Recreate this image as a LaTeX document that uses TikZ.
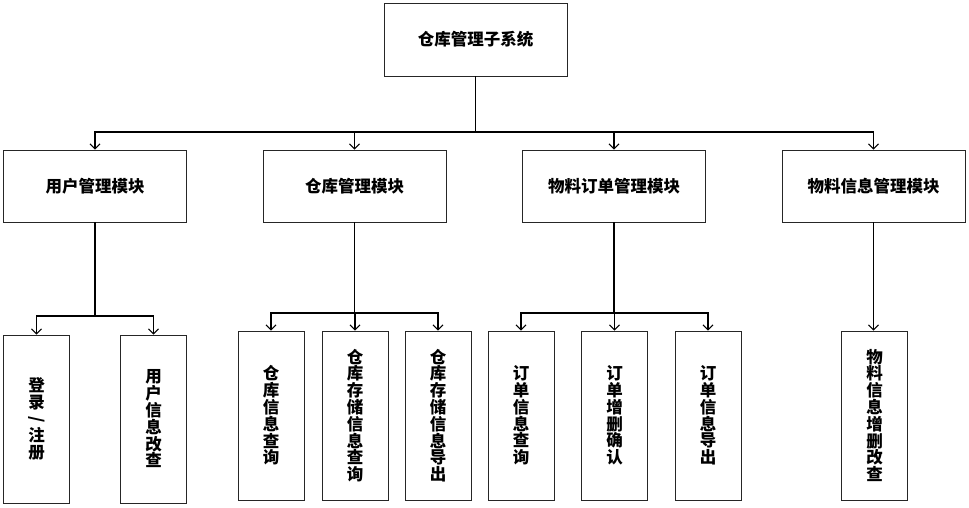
\documentclass[tikz,border=0pt]{standalone}
\usepackage{fontspec}
\newfontfamily\cjk{Noto Sans CJK SC}[BoldFont={Noto Sans CJK SC Black}]
\usetikzlibrary{arrows.meta}
\tikzset{
  x=1pt, y=-1pt,
  box/.style={draw=black!85, line width=0.9pt, fill=white, inner sep=0pt, font=\cjk\bfseries\fontsize{16.5}{16.8}\selectfont, align=center},
  wbox/.style={box, minimum width=183pt, minimum height=73pt},
  vbox/.style={box, minimum width=66pt, minimum height=169pt},
  conn/.style={line width=1.5pt, black},
  arr/.style={conn, -{Straight Barb[length=5pt,width=10pt,line width=1pt]}}
}
\begin{document}
\begin{tikzpicture}
\useasboundingbox (0,0) rectangle (969,507);
% top
\node[wbox] (top) at (475.5,39.5) {仓库管理子系统};
% level 2
\node[wbox, minimum height=72pt] (m1) at (95,186) {用户管理模块};
\node[wbox, minimum height=72pt] (m2) at (354.5,186) {仓库管理模块};
\node[wbox, minimum height=72pt] (m3) at (614,186) {物料订单管理模块};
\node[wbox, minimum height=72pt] (m4) at (873.5,186) {物料信息管理模块};
% leaves
\node[vbox, minimum height=168pt] (l11) at (36.5,419) {登\\录\\\rotatebox[origin=c]{-90}{/}\\注\\册};
\node[vbox, minimum height=168pt] (l12) at (153.5,419) {用\\户\\信\\息\\改\\查};
\node[vbox] (l21) at (271,415.5) {仓\\库\\信\\息\\查\\询};
\node[vbox] (l22) at (355,415.5) {仓\\库\\存\\储\\信\\息\\查\\询};
\node[vbox] (l23) at (438,415.5) {仓\\库\\存\\储\\信\\息\\导\\出};
\node[vbox] (l31) at (521,415.5) {订\\单\\信\\息\\查\\询};
\node[vbox] (l32) at (614.5,415.5) {订\\单\\增\\删\\确\\认};
\node[vbox] (l33) at (708,415.5) {订\\单\\信\\息\\导\\出};
\node[vbox] (l41) at (874.5,415.5) {物\\料\\信\\息\\增\\删\\改\\查};
% bus coordinates
\coordinate (b0) at (475.5,132);
\coordinate (b1) at (95,316);
\coordinate (b2) at (354.5,313);
\coordinate (b3) at (614,313);
% connectors
\draw[conn] (top.south) -- (b0);
\foreach \m in {m1,m2,m3,m4} \draw[arr] (b0) -| (\m.north);
\draw[conn] (m1.south) -- (b1);
\foreach \l in {l11,l12} \draw[arr] (b1) -| (\l.north);
\draw[conn] (m2.south) -- (b2);
\foreach \l in {l21,l22,l23} \draw[arr] (b2) -| (\l.north);
\draw[conn] (m3.south) -- (b3);
\foreach \l in {l31,l32,l33} \draw[arr] (b3) -| (\l.north);
\draw[arr] (m4.south) -- (m4.south |- l41.north);
\end{tikzpicture}
\end{document}
